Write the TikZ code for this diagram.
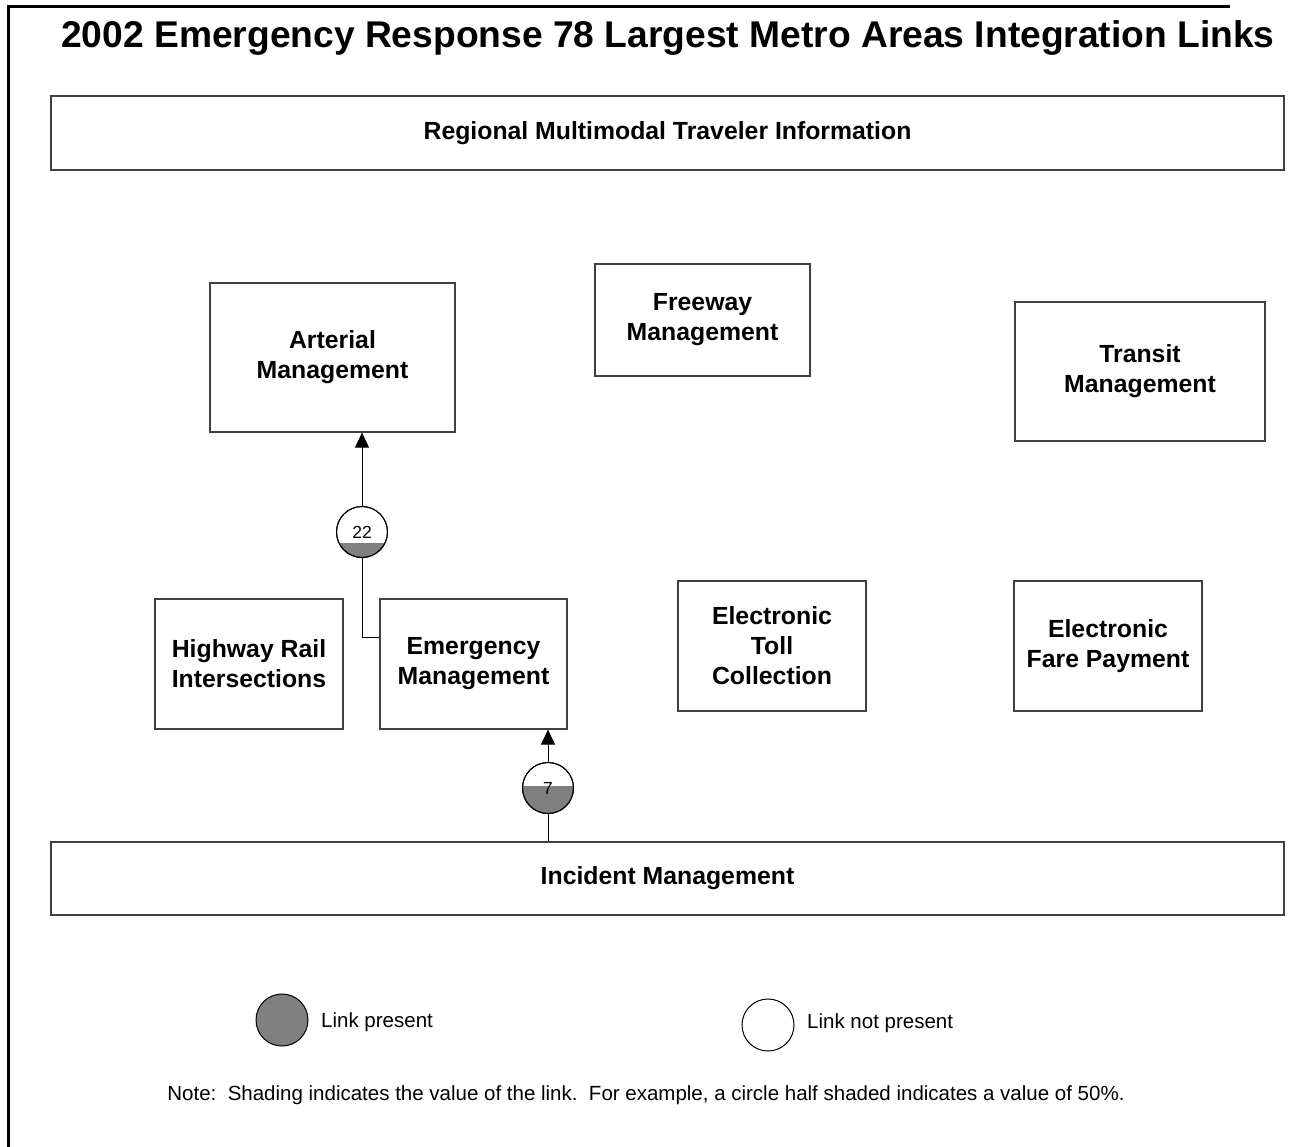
\documentclass[tikz,border=0pt]{standalone}
\usepackage{fontspec}
\setmainfont{Liberation Sans}
\usetikzlibrary{arrows.meta,calc}
\definecolor{linkgray}{HTML}{808080}
\tikzset{
  box/.style={draw=black!75, line width=1.3pt, fill=white, align=center, inner sep=0pt,
    font=\fontsize{24.8}{30}\selectfont\bfseries},
  linkc/.style={circle, draw=black, line width=1pt, inner sep=0pt, minimum size=51pt},
  ctext/.style={font=\fontsize{17.5}{20}\selectfont},
  conn/.style={draw=black, line width=1pt},
  arr/.style={conn, -{Triangle[length=15pt,width=14pt]}},
  small/.style={font=\fontsize{20.5}{24}\selectfont, anchor=west, inner sep=0pt}
}
\begin{document}
\begin{tikzpicture}[x=1pt,y=-1pt]
\useasboundingbox (0,0) rectangle (1289,1147);
% frame
\draw[line width=2.2pt] (8.5,1147) -- (8.5,6.5) -- (1230,6.5);
% title
\node[font=\fontsize{37.2}{42}\selectfont\bfseries] (title) at (668,38) {2002 Emergency Response 78 Largest Metro Areas Integration Links};
% boxes
\node[box, minimum width=1233pt, minimum height=74pt] (rmti) at (667.5,133) {Regional Multimodal Traveler Information};
\node[box, minimum width=245pt, minimum height=149pt] (art) at (332.5,357.5) {Arterial\\Management};
\node[box, minimum width=215pt, minimum height=112pt] (fwy) at (702.5,320) {Freeway\\Management};
\node[box, minimum width=250pt, minimum height=139pt] (trn) at (1140,371.5) {Transit\\Management};
\node[box, minimum width=188pt, minimum height=130pt] (hri) at (249,664) {Highway Rail\\Intersections};
\node[box, minimum width=187pt, minimum height=130pt] (emg) at (473.5,664) {Emergency\\Management};
\node[box, minimum width=188pt, minimum height=130pt] (etc) at (772,646) {Electronic\\Toll\\Collection};
\node[box, minimum width=188pt, minimum height=130pt] (efp) at (1108,646) {Electronic\\Fare Payment};
\node[box, minimum width=1233pt, minimum height=73pt] (inc) at (667.5,878.5) {Incident Management};
% link circles
\node[linkc, path picture={\fill[linkgray] (path picture bounding box.south west) rectangle ([yshift=-11pt]path picture bounding box.east);}] (c1) at (362,532) {};
\node[ctext] (c1t) at (c1.center) {22};
\draw[conn] (c1.center) circle (25.5pt);
\node[linkc, path picture={\fill[linkgray] (path picture bounding box.south west) rectangle ([yshift=2pt]path picture bounding box.east);}] (c2) at (548,788) {};
\node[ctext] (c2t) at (c2.center) {7};
\draw[conn] (c2.center) circle (25.5pt);
% connectors
\draw[conn] ([yshift=27pt]emg.west) -| (c1.south);
\draw[arr] (c1.north) -- (c1.north |- art.south);
\draw[conn] (inc.north -| c2) -- (c2.south);
\draw[arr] (c2.north) -- (c2.north |- emg.south);
% legend
\node[circle, draw=black, line width=1pt, fill=linkgray, minimum size=52pt, inner sep=0pt] (lp) at (282,1020) {};
\node[small] (lpt) at (321,1022) {Link present};
\node[circle, draw=black, line width=1pt, fill=white, minimum size=52pt, inner sep=0pt] (lnp) at (768,1025) {};
\node[small] (lnpt) at (807,1023) {Link not present};
\node[font=\fontsize{20.5}{24}\selectfont] (note) at (646,1095) {Note:\ \ Shading indicates the value of the link.\ \ For example, a circle half shaded indicates a value of 50\%.};
\end{tikzpicture}
\end{document}
